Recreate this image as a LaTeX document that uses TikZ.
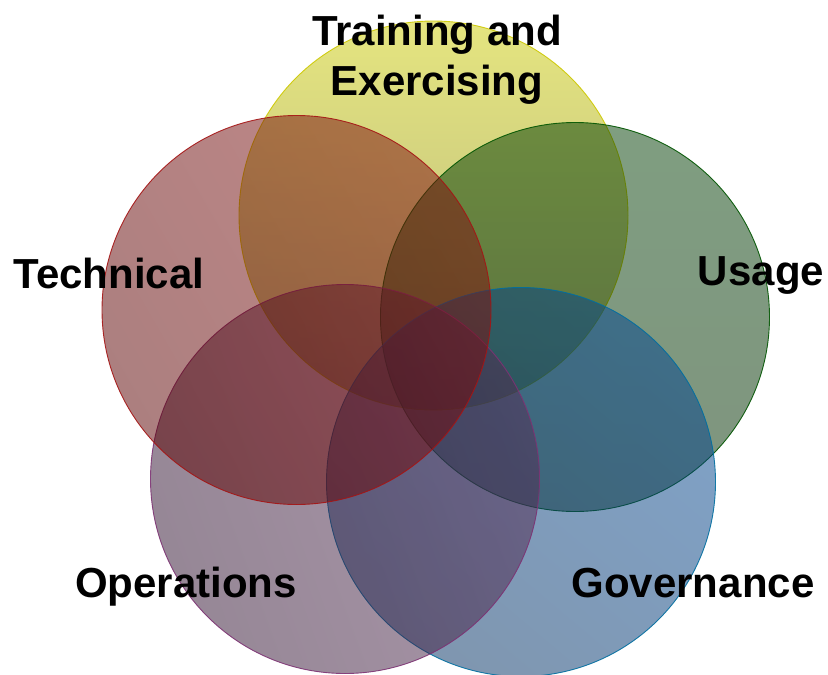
\documentclass[tikz,border=0pt]{standalone}
\usepackage{fontspec}
\setmainfont{Liberation Sans}
\begin{document}
\begin{tikzpicture}[x=1pt,y=-1pt,
  venn/.style={circle, inner sep=0pt, minimum size=389pt, line width=0.9pt, fill opacity=0.5, draw opacity=0.9},
  lbl/.style={font=\fontsize{42}{50}\selectfont\bfseries, text=black, inner sep=0pt, align=center}]
\definecolor{yelL}{RGB}{203,203,0}
\definecolor{yelR}{RGB}{111,109,1}
\definecolor{yelD}{RGB}{205,200,0}
\definecolor{grnL}{RGB}{0,61,1}
\definecolor{grnR}{RGB}{0,41,0}
\definecolor{grnD}{RGB}{0,85,0}
\definecolor{bluL}{RGB}{0,69,145}
\definecolor{bluR}{RGB}{0,45,95}
\definecolor{bluD}{RGB}{0,110,160}
\definecolor{purL}{RGB}{85,45,85}
\definecolor{purR}{RGB}{45,15,45}
\definecolor{purD}{RGB}{125,50,115}
\definecolor{redL}{RGB}{129,15,15}
\definecolor{redR}{RGB}{89,0,0}
\definecolor{redD}{RGB}{165,20,20}
\useasboundingbox (0,0) rectangle (828,675);
\node[venn, draw=yelD, left color=yelL, right color=yelR, shading angle=0] (training) at (433.5,215.5) {};
\node[venn, draw=grnD, left color=grnL, right color=grnR, shading angle=0] (usage) at (575,317) {};
\node[venn, draw=bluD, left color=bluL, right color=bluR, shading angle=-40] (governance) at (521,482) {};
\node[venn, draw=purD, left color=purL, right color=purR, shading angle=-70] (operations) at (345,479) {};
\node[venn, draw=redD, left color=redL, right color=redR, shading angle=-60] (technical) at (296.5,310) {};
\node[lbl, anchor=base] (tTraining) at (437,95) {Training and\\Exercising};
\node[lbl, anchor=base] (tTechnical) at (109,288) {Technical};
\node[lbl, anchor=base] (tUsage) at (761,285) {Usage};
\node[lbl, anchor=base] (tOperations) at (186,597) {Operations};
\node[lbl, anchor=base] (tGovernance) at (693,597) {Governance};
\end{tikzpicture}
\end{document}
